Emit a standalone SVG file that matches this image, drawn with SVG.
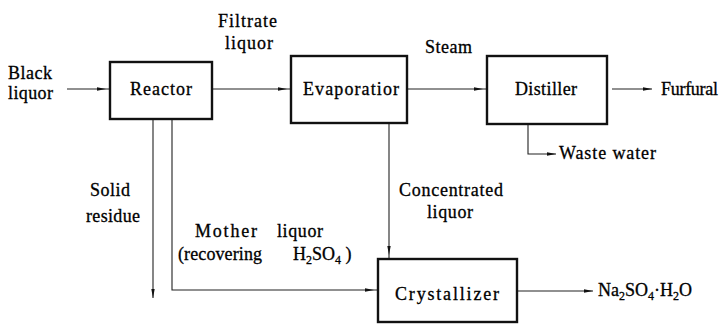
<svg xmlns="http://www.w3.org/2000/svg" width="728" height="325" viewBox="0 0 728 325">
<style>
text{font-family:"Liberation Serif","Times New Roman",serif;font-size:18px;fill:#000;stroke:#000;stroke-width:0.3}
.box{fill:#fff;stroke:#111;stroke-width:2.4}
.ln{fill:none;stroke:#222;stroke-width:1.1}
.sub{font-size:12px}
</style>
<defs>
<marker id="a" viewBox="0 0 10 4" refX="9" refY="2" markerWidth="10" markerHeight="4" markerUnits="userSpaceOnUse" orient="auto">
<path d="M0,0.3 L9,2 L0,3.7 z" fill="#111"/>
</marker>
<marker id="b" viewBox="0 0 14 4" refX="13" refY="2" markerWidth="14" markerHeight="4" markerUnits="userSpaceOnUse" orient="auto">
<path d="M0,0.3 L9,2 L0,3.7 z" fill="#111"/>
</marker>
</defs>
<g id="connectors">
<path class="ln" d="M67,89 L110,89" marker-end="url(#b)"/>
<path class="ln" d="M212,89 L291,89" marker-end="url(#b)"/>
<path class="ln" d="M407,89 L487,89" marker-end="url(#b)"/>
<path class="ln" d="M612,89 L652,89" marker-end="url(#a)"/>
<path class="ln" d="M528,124 L528,154 L556,154" marker-end="url(#a)"/>
<path class="ln" d="M389,123 L389,259" marker-end="url(#b)"/>
<path class="ln" d="M153,119 L153,298" marker-end="url(#a)"/>
<path class="ln" d="M172,119 L172,290 L378,290" marker-end="url(#b)"/>
<path class="ln" d="M517,291 L593,291" marker-end="url(#a)"/>
</g>
<g id="reactor">
<rect class="box" x="110" y="62" width="102" height="57"/>
<text x="161" y="95" text-anchor="middle" textLength="62" lengthAdjust="spacing">Reactor</text>
</g>
<g id="evaporation">
<rect class="box" x="291" y="56" width="116" height="67"/>
<text x="351" y="95" text-anchor="middle" textLength="96" lengthAdjust="spacing">Evaporatior</text>
</g>
<g id="distiller">
<rect class="box" x="487" y="56" width="120" height="68"/>
<text x="546" y="95" text-anchor="middle" textLength="62" lengthAdjust="spacing">Distiller</text>
</g>
<g id="crystallizer">
<rect class="box" x="378" y="259" width="139" height="63"/>
<text x="447" y="300" text-anchor="middle" textLength="104" lengthAdjust="spacing">Crystallizer</text>
</g>
<g id="labels">
<text x="8" y="79" textLength="44" lengthAdjust="spacing">Black</text>
<text x="8" y="99" textLength="45" lengthAdjust="spacing">liquor</text>
<text x="218" y="27" textLength="59" lengthAdjust="spacing">Filtrate</text>
<text x="225" y="49" textLength="48" lengthAdjust="spacing">liquor</text>
<text x="425" y="53" textLength="47" lengthAdjust="spacing">Steam</text>
<text x="661" y="95" textLength="57" lengthAdjust="spacing">Furfural</text>
<text x="559" y="159" textLength="97" lengthAdjust="spacing">Waste water</text>
<text x="90" y="196" textLength="40" lengthAdjust="spacing">Solid</text>
<text x="86" y="222" textLength="54" lengthAdjust="spacing">residue</text>
<text x="195" y="237" textLength="62" lengthAdjust="spacing">Mother</text>
<text x="277" y="237" textLength="46" lengthAdjust="spacing">liquor</text>
<text x="178" y="260" textLength="84" lengthAdjust="spacing">(recovering</text>
<text x="293" y="260">H<tspan class="sub" dy="4">2</tspan><tspan dy="-4">SO</tspan><tspan class="sub" dy="4">4</tspan><tspan dy="-4"> )</tspan></text>
<text x="399" y="196" textLength="104" lengthAdjust="spacing">Concentrated</text>
<text x="427" y="218" textLength="46" lengthAdjust="spacing">liquor</text>
<text x="598" y="296">Na<tspan class="sub" dy="4">2</tspan><tspan dy="-4">SO</tspan><tspan class="sub" dy="4">4</tspan><tspan dy="-4">·H</tspan><tspan class="sub" dy="4">2</tspan><tspan dy="-4">O</tspan></text>
</g>
</svg>
